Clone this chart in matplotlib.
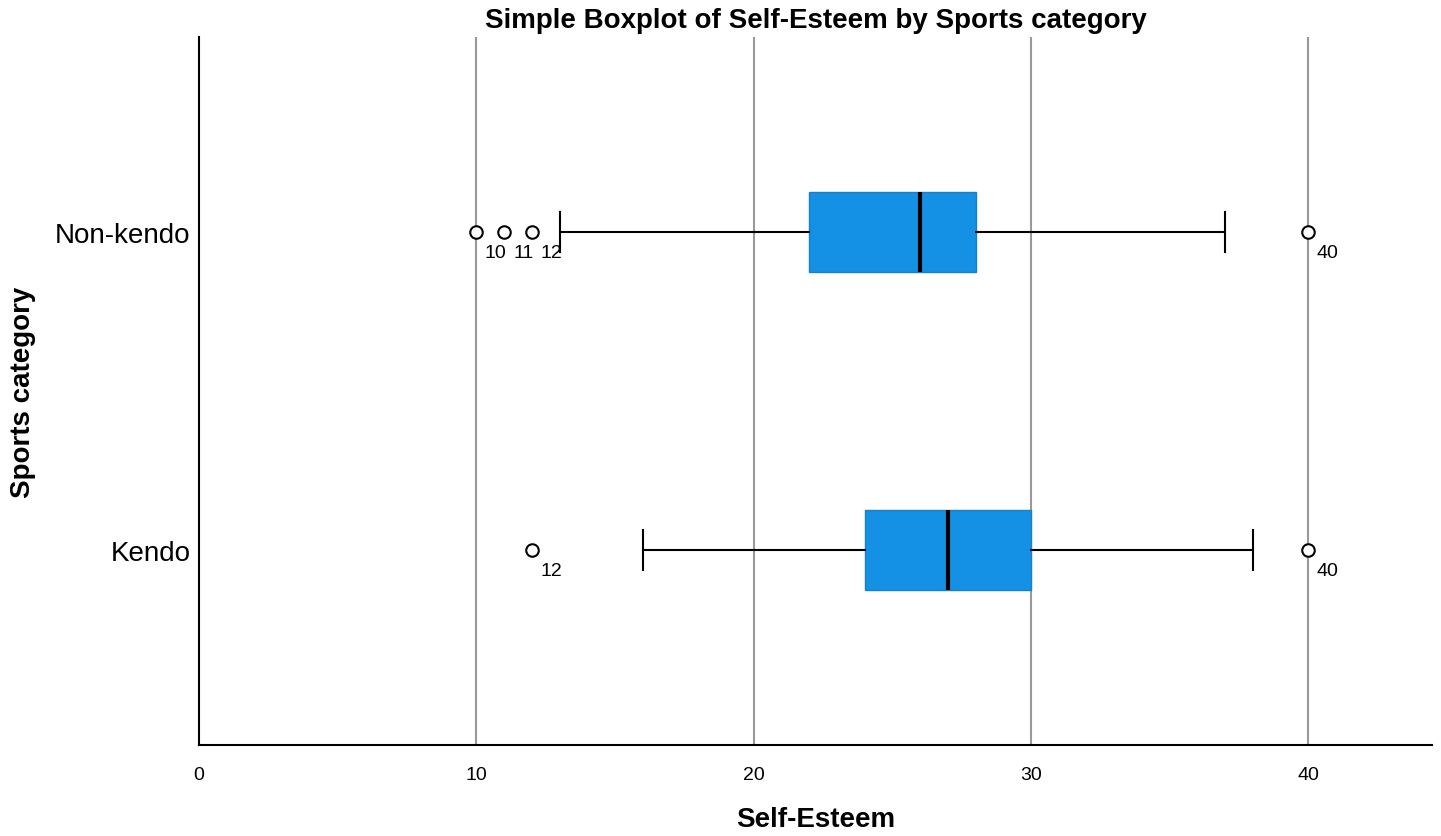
import matplotlib
matplotlib.use("Agg")
import matplotlib.pyplot as plt

plt.rcParams['font.family'] = ['Liberation Sans', 'DejaVu Sans']

categories = ["Kendo", "Non-kendo"]
q1 = [24, 22]
medians = [27, 26]
q3 = [30, 28]
whisker_low = [16, 13]
whisker_high = [38, 37]
outliers = [[12, 40], [10, 11, 12, 40]]
outlier_labels = [["12", "40"], ["10", "11", "12", "40"]]
xticks = [0, 10, 20, 30, 40]

fig = plt.figure(figsize=(14.41, 8.37), dpi=100)
ax = fig.add_axes([0.1381, 0.1087, 0.8557, 0.8459])

stats = []
for i, c in enumerate(categories):
    stats.append(dict(label=c, med=medians[i], q1=q1[i], q3=q3[i],
                      whislo=whisker_low[i], whishi=whisker_high[i],
                      fliers=outliers[i]))

positions = [1, 2]
ax.bxp(stats, positions=positions, vert=False, widths=0.25, patch_artist=True,
       boxprops=dict(facecolor='#1490E4', edgecolor='#1a7fc8', linewidth=1.0),
       medianprops=dict(color='black', linewidth=3.0),
       whiskerprops=dict(color='black', linewidth=1.5),
       capprops=dict(color='black', linewidth=1.5),
       capwidths=0.125,
       flierprops=dict(marker='o', markersize=9, markerfacecolor='white',
                       markeredgecolor='black', markeredgewidth=1.5),
       zorder=3)

for i, pos in enumerate(positions):
    for v, lab in zip(outliers[i], outlier_labels[i]):
        ax.annotate(lab, xy=(v, pos), xytext=(14, -15), textcoords='offset points',
                    ha='center', va='center', fontsize=14, zorder=4)

ax.set_xlim(0, 44.46)
ax.set_ylim(0.387, 2.613)
ax.set_xticks(xticks)
ax.set_xticklabels([str(t) for t in xticks], fontsize=14)
ax.set_yticks(positions)
ax.set_yticklabels(categories, fontsize=20)
ax.tick_params(axis='both', length=0)
ax.tick_params(axis='x', pad=15)
ax.tick_params(axis='y', pad=6)

for t in xticks[1:]:
    ax.axvline(t, color='#999999', linewidth=1.5, zorder=1)

for s in ['top', 'right']:
    ax.spines[s].set_visible(False)
for s in ['left', 'bottom']:
    ax.spines[s].set_linewidth(1.5)
    ax.spines[s].set_color('black')

ax.set_xlabel("Self-Esteem", fontsize=20, fontweight='bold')
ax.xaxis.set_label_coords(0.5, -0.086)
ax.set_ylabel("Sports category", fontsize=20, fontweight='bold')
ax.yaxis.set_label_coords(-0.132, 0.5)
ax.set_title("Simple Boxplot of Self-Esteem by Sports category", fontsize=20,
             fontweight='bold', pad=7)

fig.savefig("out.png", dpi=100)
